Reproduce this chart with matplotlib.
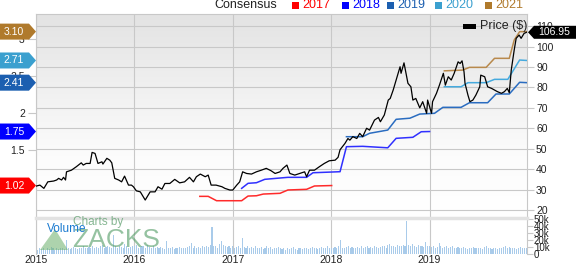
import numpy as np
import matplotlib
matplotlib.use("Agg")
import matplotlib.pyplot as plt
from matplotlib.patches import Polygon, Rectangle
from matplotlib.colors import LinearSegmentedColormap
from matplotlib.transforms import blended_transform_factory

plt.rcParams['font.family'] = ['Liberation Sans', 'DejaVu Sans']

# ---- price (decimal year, $) ----
price_t = [2015.00, 2015.04, 2015.08, 2015.12, 2015.18, 2015.21, 2015.23, 2015.26, 2015.28, 2015.30,
           2015.31, 2015.36, 2015.41, 2015.46, 2015.48, 2015.51, 2015.55, 2015.57, 2015.60, 2015.63,
           2015.67, 2015.68, 2015.72, 2015.75, 2015.77, 2015.80, 2015.84, 2015.87, 2015.90, 2015.94,
           2015.97, 2015.99, 2016.02, 2016.06, 2016.11, 2016.16, 2016.21, 2016.24, 2016.28, 2016.31,
           2016.36, 2016.41, 2016.46, 2016.51, 2016.56, 2016.60, 2016.63, 2016.67, 2016.72, 2016.75,
           2016.78, 2016.83, 2016.89, 2016.92, 2016.97, 2017.00, 2017.04, 2017.07, 2017.10, 2017.14,
           2017.19, 2017.24, 2017.29, 2017.34, 2017.39, 2017.43, 2017.48, 2017.51, 2017.55, 2017.58,
           2017.63, 2017.68, 2017.73, 2017.75, 2017.78, 2017.83, 2017.88, 2017.93, 2017.98, 2018.04,
           2018.07, 2018.09, 2018.14, 2018.17, 2018.19, 2018.22, 2018.26, 2018.29, 2018.32, 2018.36,
           2018.39, 2018.44, 2018.48, 2018.50, 2018.54, 2018.58, 2018.60, 2018.63, 2018.66, 2018.70,
           2018.71, 2018.74, 2018.76, 2018.78, 2018.81, 2018.83, 2018.86, 2018.90, 2018.93, 2018.97,
           2018.98, 2019.02, 2019.03, 2019.07, 2019.10, 2019.14, 2019.16, 2019.19, 2019.22, 2019.25,
           2019.29, 2019.31, 2019.33, 2019.35, 2019.36, 2019.39, 2019.41, 2019.44, 2019.47, 2019.51,
           2019.52, 2019.56, 2019.59, 2019.63, 2019.66, 2019.69, 2019.73, 2019.76, 2019.79, 2019.81,
           2019.83, 2019.86, 2019.88, 2019.91, 2019.93, 2019.96, 2019.985]
price_v = [31.7, 32.2, 30.6, 33.8, 34.2, 34.7, 35.5, 34.7, 36.0, 34.7,
           38.7, 39.5, 41.2, 43.1, 42.0, 42.8, 42.8, 48.2, 47.7, 42.8,
           43.6, 42.5, 45.3, 44.4, 43.1, 35.5, 34.7, 33.8, 36.6, 32.2,
           32.2, 31.4, 29.4, 28.9, 24.9, 28.9, 28.9, 31.4, 30.2, 33.0,
           33.0, 35.0, 33.3, 33.8, 36.0, 33.8, 36.3, 37.6, 36.3, 37.1,
           32.2, 32.2, 31.4, 30.6, 29.8, 29.8, 32.2, 33.8, 38.7, 37.9,
           37.6, 38.7, 39.5, 40.4, 39.2, 37.9, 38.7, 40.4, 42.0, 37.9,
           37.1, 37.9, 38.7, 36.3, 39.5, 39.5, 41.2, 42.8, 44.1, 44.4,
           45.8, 49.5, 52.6, 55.0, 54.2, 55.9, 55.0, 57.5, 55.9, 60.0,
           59.1, 64.0, 65.3, 63.2, 66.5, 73.8, 74.6, 78.7, 83.6, 90.1,
           86.9, 92.0, 86.9, 82.0, 80.3, 73.8, 74.6, 70.0, 73.0, 67.3,
           73.8, 67.3, 73.0, 77.1, 81.1, 86.9, 81.1, 85.2, 83.6, 86.9,
           92.5, 91.7, 93.0, 87.6, 82.0, 76.2, 73.0, 73.8, 76.2, 80.3,
           86.0, 85.2, 80.3, 79.5, 78.7, 77.9, 77.1, 77.9, 79.5, 77.4,
           88.5, 98.3, 104.0, 105.6, 104.0, 106.4, 106.95]
last_price = "106.95"

# ---- consensus EPS estimates (decimal year, EPS) ----
c2017_t = [2016.665, 2016.75, 2016.835, 2017.09, 2017.155, 2017.24, 2017.31, 2017.48, 2017.56, 2017.75, 2017.83, 2018.005]
c2017_v = [0.874, 0.874, 0.815, 0.815, 0.878, 0.882, 0.905, 0.915, 0.960, 0.969, 1.014, 1.02]
c2018_t = [2017.09, 2017.155, 2017.24, 2017.325, 2017.56, 2017.75, 2017.815, 2018.09, 2018.155, 2018.32, 2018.575,
           2018.66, 2018.83, 2018.915, 2019.0]
c2018_v = [0.982, 1.050, 1.058, 1.104, 1.131, 1.131, 1.193, 1.207, 1.545, 1.550, 1.530,
           1.658, 1.672, 1.747, 1.75]
c2019_t = [2018.155, 2018.32, 2018.39, 2018.575, 2018.66, 2018.80, 2018.90, 2019.05, 2019.135, 2019.32, 2019.405,
           2019.59, 2019.675, 2019.81, 2019.915, 2019.99]
c2019_v = [1.680, 1.680, 1.726, 1.770, 1.915, 1.930, 1.986, 1.996, 2.077, 2.077, 2.139,
           2.139, 2.257, 2.257, 2.415, 2.41]
c2020_t = [2019.15, 2019.32, 2019.39, 2019.575, 2019.66, 2019.795, 2019.915, 2019.99]
c2020_v = [2.355, 2.355, 2.410, 2.410, 2.455, 2.455, 2.716, 2.71]
c2021_t = [2019.15, 2019.335, 2019.405, 2019.575, 2019.66, 2019.81, 2019.86, 2019.915, 2019.99]
c2021_v = [2.570, 2.580, 2.617, 2.617, 2.739, 2.739, 2.986, 3.099, 3.10]

series_names = ["2017", "2018", "2019", "2020", "2021"]
series_colors = ["#ff0000", "#0000ff", "#1c5fb0", "#3ba0cf", "#b07a2c"]
line_colors = ["#ff2a2a", "#3030ff", "#2a6cc0", "#45aade", "#b8894c"]
last_eps = ["1.02", "1.75", "2.41", "2.71", "3.10"]

# ---- weekly volume (thousands), one list per quarter ----
vol_q = [
    [7, 6, 8, 7, 9, 6, 8, 7, 10, 8, 6, 9, 7],
    [8, 9, 7, 20, 8, 7, 9, 10, 8, 7, 9, 8, 11],
    [9, 8, 10, 9, 12, 8, 10, 9, 11, 13, 9, 10, 12],
    [10, 9, 27, 11, 8, 12, 10, 9, 14, 11, 9, 10, 12],
    [11, 13, 9, 10, 12, 11, 9, 13, 10, 8, 11, 9, 10],
    [8, 10, 9, 7, 18, 9, 8, 10, 7, 9, 8, 10, 9],
    [9, 8, 10, 11, 15, 9, 12, 8, 10, 9, 11, 10, 12],
    [10, 13, 38, 11, 12, 9, 14, 19, 13, 11, 10, 12, 9],
    [11, 9, 10, 12, 9, 22, 10, 9, 12, 8, 10, 9, 11],
    [9, 8, 10, 7, 9, 11, 8, 10, 7, 9, 8, 10, 8],
    [7, 8, 6, 9, 7, 8, 10, 7, 6, 8, 9, 7, 8],
    [8, 7, 9, 10, 8, 9, 7, 8, 10, 9, 8, 11, 9],
    [9, 8, 10, 9, 11, 20, 9, 8, 10, 11, 9, 10, 8],
    [9, 10, 8, 11, 9, 10, 12, 9, 10, 8, 11, 10, 9],
    [10, 12, 11, 9, 13, 14, 11, 12, 10, 13, 12, 11, 13],
    [12, 47, 13, 11, 14, 12, 10, 13, 11, 12, 10, 17, 11],
    [12, 10, 11, 9, 10, 15, 11, 9, 10, 12, 9, 10, 11],
    [9, 8, 10, 9, 8, 10, 9, 7, 9, 8, 10, 9, 8],
    [8, 9, 7, 10, 12, 8, 9, 7, 8, 9, 7, 8, 9],
    [10, 11, 9, 10, 8, 9, 8, 7, 9, 10, 8, 9, 8],
]
volumes = [v for q in vol_q for v in q]
vol_t = 2015 + np.arange(len(volumes)) / 52.0

years = [2015, 2016, 2017, 2018, 2019]
price_ticks = [20, 30, 40, 50, 60, 70, 80, 90, 100, 110]
eps_ticks = [1.5, 2, 2.5, 3]
vol_ticks = [0, 10, 20, 30, 40, 50]

# ---- layout in pixels ----
W, H = 576, 264
fig = plt.figure(figsize=(W / 100, H / 100), dpi=100)


def fx(px):
    return px / W


def fy(py):
    return 1 - py / H


GRID = "#c8c8c8"
TXT = "#222222"
L, R = 36, 527

ax = fig.add_axes([fx(L), fy(217), fx(R) - fx(L), fy(14) - fy(217)])
axv = fig.add_axes([fx(L), fy(254), fx(R) - fx(L), fy(218) - fy(254)])

# gradient background of price panel
grad = np.linspace(0, 1, 256).reshape(-1, 1)
bg = LinearSegmentedColormap.from_list("bg", [(0, "#ffffff"), (0.3, "#fcfcfc"), (1, "#e3e3e3")])
ax.patch.set_visible(False)
ax.imshow(grad, extent=[0, 1, 0, 1], transform=ax.transAxes, cmap=bg, origin="lower",
          aspect="auto", zorder=0, interpolation="bilinear")

# EPS axis on the left (twin), price axis on the right
ax_eps = ax.twinx()
ax_eps.set_ylim(0.595, 3.338)
ax_eps.yaxis.tick_left()
ax_eps.set_yticks(eps_ticks)
ax_eps.set_yticklabels(["1.5", "2", "2.5", "3"])
ax_eps.tick_params(axis="y", length=6, color=GRID, labelsize=7.5, labelcolor=TXT, pad=2)
for s in ax_eps.spines.values():
    s.set_visible(False)

ax.yaxis.tick_right()
ax.set_xticks(years)
ax.set_xticklabels([])
ax.set_yticks(price_ticks)
ax.tick_params(axis="x", length=0)
ax.tick_params(axis="y", length=5, color=GRID, labelsize=7.5, labelcolor=TXT, pad=1.5)
ax.grid(True, color=GRID, lw=0.8)
for s in ["top", "left", "right"]:
    ax.spines[s].set_color(GRID)
ax.spines["bottom"].set_visible(False)

cons = [(c2017_t, c2017_v), (c2018_t, c2018_v), (c2019_t, c2019_v), (c2020_t, c2020_v), (c2021_t, c2021_v)]
for (t, v), col in zip(cons, line_colors):
    ax.plot(t, v, color=col, lw=1.1, transform=ax_eps.transData, zorder=3)

ax.plot(price_t, price_v, color="black", lw=0.9, zorder=4)
ax.set_xlim(2015.0, 2019.99)
ax.set_ylim(16.6, 115.9)

# left value tags
trans_l = blended_transform_factory(fig.transFigure, ax_eps.transData)
hh = 8 / 74
for val, col in zip(last_eps, series_colors):
    v = float(val)
    tag = Polygon([(0, v - hh), (fx(29), v - hh), (fx(36), v), (fx(29), v + hh), (0, v + hh)],
                  closed=True, transform=trans_l, facecolor=col, edgecolor="none",
                  clip_on=False, zorder=6)
    ax_eps.add_patch(tag)
    ax_eps.text(fx(14), v, val, transform=trans_l, ha="center", va="center",
                color="white", fontsize=7.5, zorder=7, clip_on=False)

# right price tag
trans_r = blended_transform_factory(fig.transFigure, ax.transData)
pv = float(last_price)
ph = 6.5 / 2.044
ax.add_patch(Polygon([(fx(528), pv), (fx(534), pv - ph), (1, pv - ph), (1, pv + ph), (fx(534), pv + ph)],
                     closed=True, transform=trans_r, facecolor="black", edgecolor="none",
                     clip_on=False, zorder=6))
ax.text(fx(554), pv, last_price, transform=trans_r, ha="center", va="center",
        color="white", fontsize=7.5, zorder=7, clip_on=False)

# ---- volume panel ----
axv.bar(vol_t, volumes, width=0.011, color="#a9cbea", edgecolor="none", zorder=2)
axv.set_xlim(2015.0, 2019.99)
axv.set_ylim(0, 51)
axv.set_xticks(years)
axv.set_xticklabels([str(y) for y in years])
axv.set_yticks(vol_ticks)
axv.set_yticklabels(["0", "10k", "20k", "30k", "40k", "50k"])
axv.yaxis.tick_right()
axv.tick_params(axis="x", length=0, labelsize=7.5, labelcolor=TXT, pad=1)
axv.tick_params(axis="y", length=4, color=GRID, labelsize=7, labelcolor=TXT, pad=1)
axv.grid(True, axis="x", color=GRID, lw=0.8, zorder=1)
axv.set_axisbelow(True)
axv.spines["top"].set_color("#e2e2e2")
axv.spines["top"].set_linewidth(2.5)
axv.spines["left"].set_color(GRID)
axv.spines["right"].set_color(GRID)
axv.spines["bottom"].set_visible(False)

# watermark and volume label
fig.text(fx(73), fy(222), "Charts by", fontsize=8.5, color="#5f9f6f", alpha=0.75, va="center")
fig.text(fx(72), fy(240), "ZACKS", fontsize=19, color="#4f9a62", alpha=0.6, va="center")
fig.add_artist(Polygon([(fx(40), fy(250)), (fx(68), fy(250)), (fx(55), fy(229))], closed=True,
                       transform=fig.transFigure, facecolor="#6ab06a", alpha=0.55, edgecolor="none"))
fig.text(fx(47), fy(229), "Volume", fontsize=8.5, color="#1a7ad0", va="center")

# ---- top legend ----
fig.text(fx(214), fy(5), "Consensus", fontsize=9, color=TXT, va="center")
sq_x = [292, 342, 387, 435, 485]
for x0, name, col in zip(sq_x, series_names, series_colors):
    fig.add_artist(Rectangle((fx(x0), fy(8.5)), fx(7), 7 / H, transform=fig.transFigure,
                             facecolor=col, edgecolor="none"))
    fig.text(fx(x0 + 10), fy(5), name, fontsize=9, color=col, va="center")

fig.add_artist(Rectangle((fx(463), fy(28.5)), fx(13), 5 / H, transform=fig.transFigure,
                         facecolor="black", edgecolor="none"))
fig.text(fx(480), fy(26), "Price ($)", fontsize=9, color=TXT, va="center")

fig.savefig("out.png", dpi=100)
